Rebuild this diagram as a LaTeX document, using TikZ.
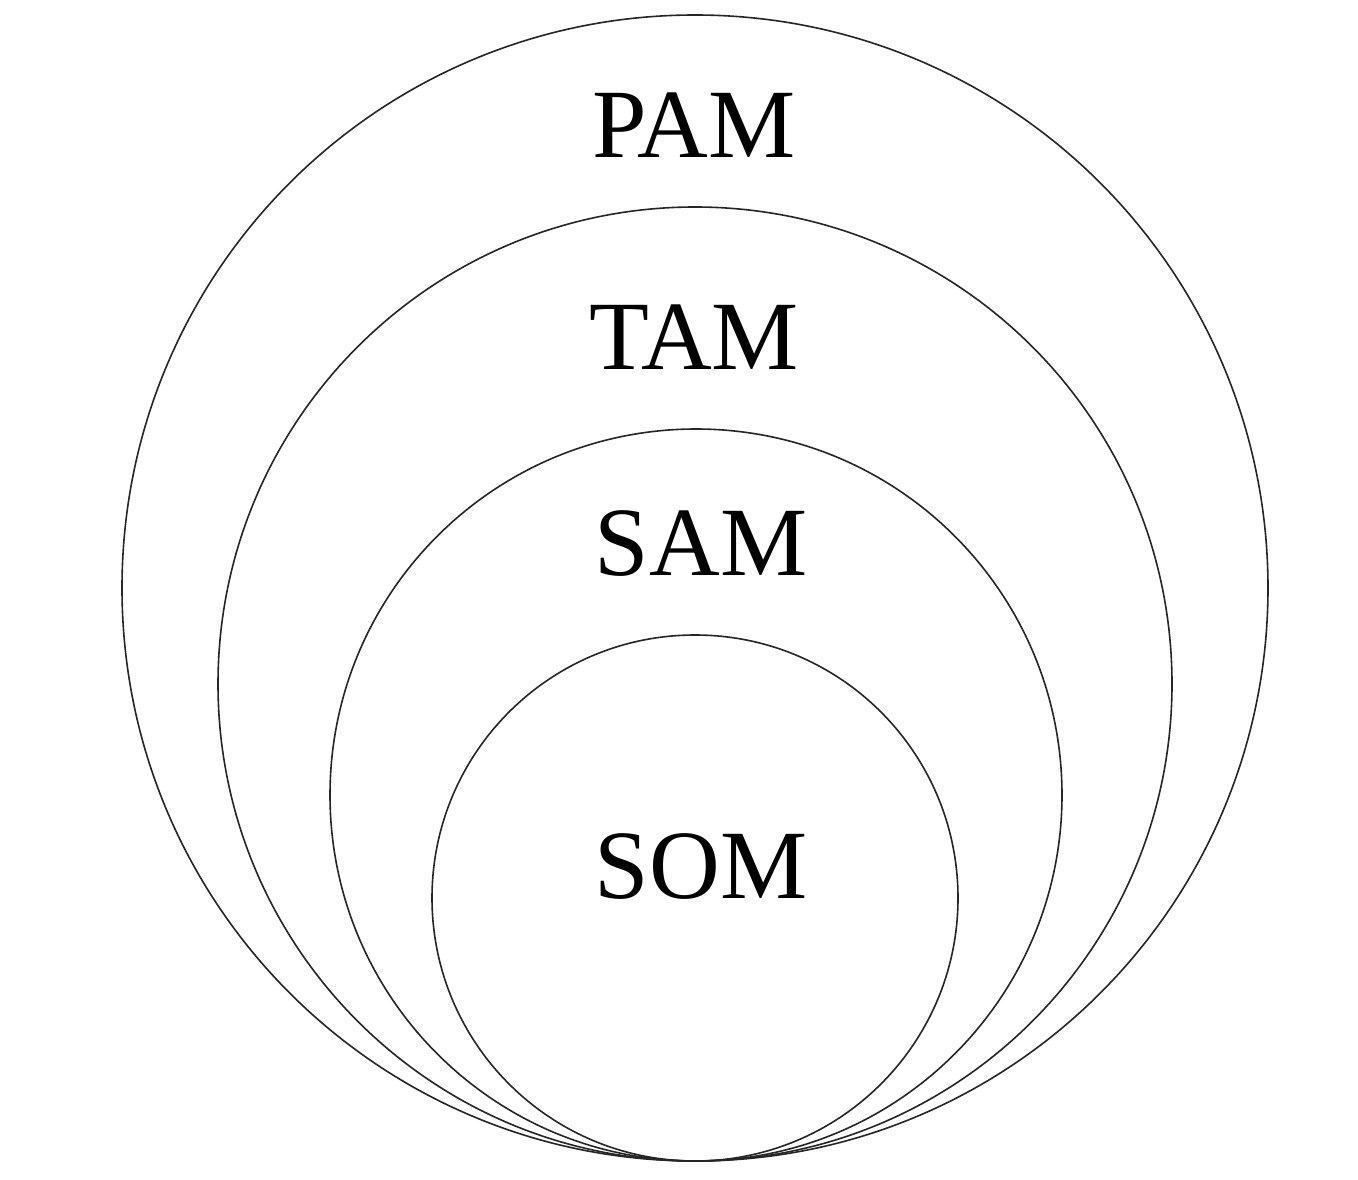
\documentclass[tikz,border=0pt]{standalone}
\usepackage{fontspec}
\setmainfont{Liberation Serif}
\begin{document}
\begin{tikzpicture}[x=1pt,y=-1pt,
  ring/.style={draw=black!85,line width=1.6pt},
  lbl/.style={anchor=base,inner sep=0pt,font=\fontsize{98}{100}\selectfont}]
\useasboundingbox (0,0) rectangle (1358,1180);
\fill[white] (0,0) rectangle (1358,1180);
\node[ring,circle,minimum size=1146pt,inner sep=0pt] (pamc) at (695,588) {};
\node[ring,circle,minimum size=954pt,inner sep=0pt] (tamc) at (695,684) {};
\node[ring,circle,minimum size=732pt,inner sep=0pt] (samc) at (696,795) {};
\node[ring,circle,minimum size=526pt,inner sep=0pt] (somc) at (695,898) {};
\node[lbl] (pam) at (694,158) {PAM};
\node[lbl] (tam) at (694,369) {TAM};
\node[lbl] (sam) at (701,575) {SAM};
\node[lbl] (som) at (701,898) {SOM};
\end{tikzpicture}
\end{document}
